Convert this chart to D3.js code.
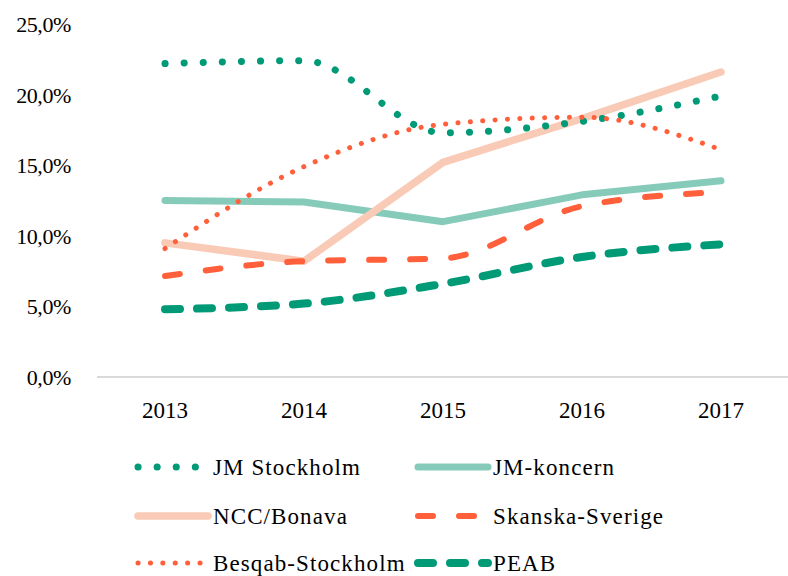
<!DOCTYPE html>
<html><head><meta charset="utf-8">
<script src="https://cdn.jsdelivr.net/npm/d3@7"></script>
<style>body{margin:0;background:#fff;}</style>
</head><body>
<svg id="c" width="788" height="576"></svg>
<script>
const years = ["2013","2014","2015","2016","2017"];
const yTicks = [0,5,10,15,20,25];
const jmStockholm = [22.2,22.4,17.3,18.1,19.9];
const jmKoncern = [12.5,12.4,11.0,12.9,13.9];
const nccBonava = [9.5,8.2,15.2,18.3,21.6];
const skanska = [7.15,8.2,8.4,12.1,13.1];
const besqab = [9.1,14.9,17.9,18.4,16.1];
const peab = [4.8,5.2,6.6,8.5,9.4];
const seriesNames = ["JM Stockholm","JM-koncern","NCC/Bonava","Skanska-Sverige","Besqab-Stockholm","PEAB"];

const FONT = "'Liberation Serif','Times New Roman',serif";
const styles = [
  {color:"#009a77", w:7, dash:"0.1 19", smooth:true},
  {color:"#86cbb9", w:7, dash:null, smooth:false},
  {color:"#f9cab5", w:7.5, dash:null, smooth:false},
  {color:"#ff5f3a", w:6, dash:"15 26", smooth:true},
  {color:"#ff5f3a", w:5, dash:"0.1 12.3", smooth:true},
  {color:"#009a77", w:8, dash:"15 17", smooth:true}
];
const data = [jmStockholm,jmKoncern,nccBonava,skanska,besqab,peab];

const svg = d3.select("#c");
const x = d3.scaleBand().domain(years).range([95.5,790.5]);
const y = d3.scaleLinear().domain([0,25]).range([377,24]);

// baseline
svg.append("line").attr("x1",97).attr("x2",788).attr("y1",y(0)).attr("y2",y(0))
  .attr("stroke","#d9d9d9").attr("stroke-width",2);

// y ticks
svg.append("g").selectAll("text").data(yTicks).join("text")
  .attr("x",71).attr("y",d=>y(d)).attr("dy","0.36em").attr("text-anchor","end")
  .attr("font-family",FONT).attr("font-size",22).attr("letter-spacing",-0.4).attr("fill","#000")
  .text(d=>d.toFixed(1).replace(".",",")+"%");

// x labels
svg.append("g").selectAll("text").data(years).join("text")
  .attr("x",d=>x(d)+x.bandwidth()/2).attr("y",418)
  .attr("text-anchor","middle").attr("font-family",FONT).attr("font-size",23)
  .attr("fill","#000").text(d=>d);

// lines
const draw = [1,2,0,3,4,5];
draw.forEach(i=>{
  const s = styles[i];
  const line = d3.line().x((d,j)=>x(years[j])+x.bandwidth()/2).y(d=>y(d))
    .curve(s.smooth ? d3.curveMonotoneX : d3.curveLinear);
  const p = svg.append("path").attr("d",line(data[i])).attr("fill","none")
    .attr("stroke",s.color).attr("stroke-width",s.w)
    .attr("stroke-linecap","round").attr("stroke-linejoin","round");
  if(s.dash) p.attr("stroke-dasharray",s.dash);
});

// legend
const legPos = [[138,467],[418,467],[138,516],[418,516],[138,563],[418,563]];
seriesNames.forEach((n,i)=>{
  const s = styles[i];
  const [lx,ly] = legPos[i];
  const l = svg.append("line").attr("x1",lx).attr("x2",lx+70).attr("y1",ly).attr("y2",ly)
    .attr("stroke",s.color).attr("stroke-width",s.w).attr("stroke-linecap","round");
  if(s.dash) l.attr("stroke-dasharray",s.dash);
  svg.append("text").attr("x",lx+75).attr("y",ly).attr("dy","0.35em")
    .attr("font-family",FONT).attr("font-size",23).attr("letter-spacing",1.1)
    .attr("fill","#000").text(n);
});
</script>
</body></html>
